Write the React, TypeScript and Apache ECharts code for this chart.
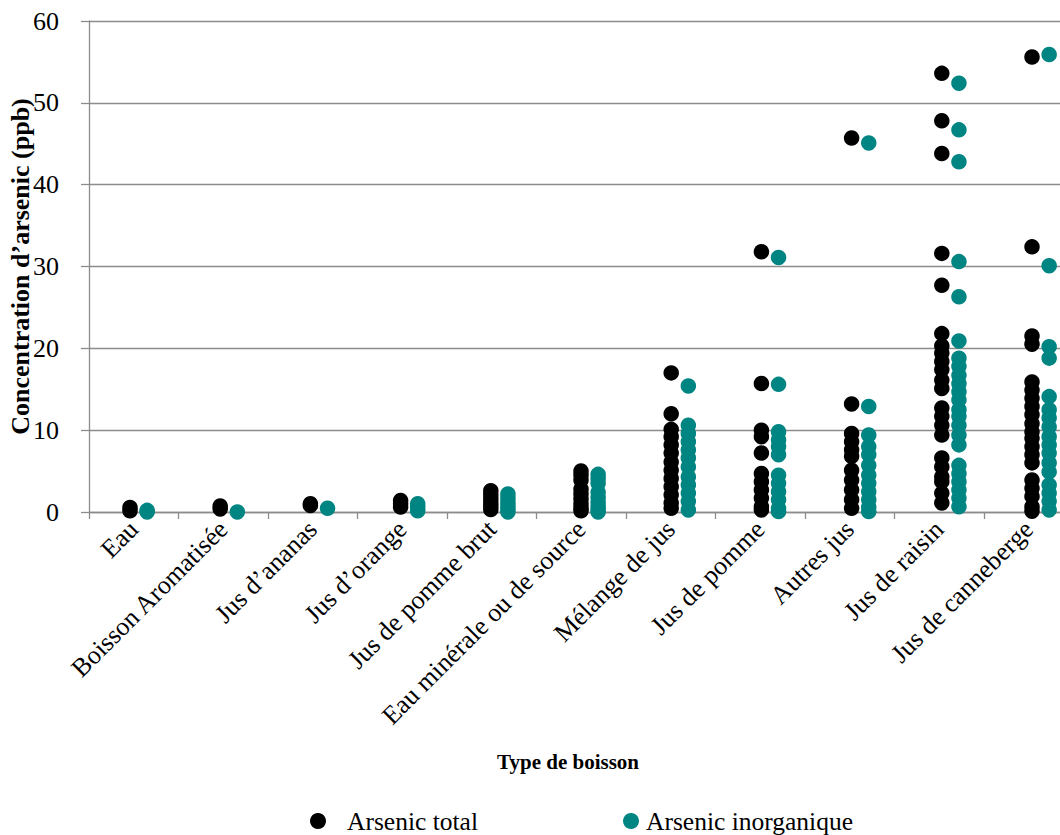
import React, { useEffect, useRef } from "react";
import * as echarts from "echarts";

// Beverage categories shown on the x axis
const categories = [
  "Eau",
  "Boisson Aromatisée",
  "Jus d’ananas",
  "Jus d’orange",
  "Jus de pomme brut",
  "Eau minérale ou de source",
  "Mélange de jus",
  "Jus de pomme",
  "Autres jus",
  "Jus de raisin",
  "Jus de canneberge",
];

// Total arsenic (ppb), one list per category
const totalArsenic: number[][] = [
  [0.15, 0.55],
  [0.37, 0.73],
  [0.8, 1.0],
  [0.6, 1.0, 1.4],
  [0.3, 0.7, 1.1, 1.6, 2.1, 2.6],
  [0.15, 0.5, 1.0, 1.6, 2.2, 2.8, 3.9, 4.5, 5.0],
  [17.0, 12.0, 10.1, 9.2, 8.2, 7.2, 6.1, 5.1, 4.1, 3.1, 2.1, 1.1, 0.45],
  [31.8, 15.7, 10.0, 9.2, 7.2, 4.7, 3.7, 2.7, 1.7, 0.65, 0.25],
  [45.7, 13.2, 9.6, 8.6, 7.6, 6.8, 5.1, 3.9, 2.7, 1.5, 0.45],
  [53.6, 47.8, 43.8, 31.6, 27.7, 21.8, 20.3, 19.4, 18.4, 17.4, 16.1, 15.1, 12.7, 11.7, 10.6, 9.4, 6.6, 5.5, 4.3, 3.7, 2.3, 1.1],
  [55.6, 32.4, 21.5, 20.5, 15.9, 14.9, 13.9, 12.9, 11.9, 10.8, 9.8, 9.0, 8.0, 7.0, 6.0, 3.9, 2.9, 1.9, 0.65, 0.1],
];

// Inorganic arsenic (ppb), one list per category
const inorganicArsenic: number[][] = [
  [0.0, 0.2],
  [0.0],
  [0.45],
  [0.15, 0.6, 1.0],
  [0.0, 0.4, 0.8, 1.2, 1.7, 2.2],
  [0.0, 0.3, 0.7, 1.2, 1.8, 2.4, 3.5, 4.1, 4.6],
  [15.4, 10.6, 9.6, 8.6, 7.6, 6.6, 5.5, 4.3, 3.3, 2.3, 1.3, 0.25],
  [31.1, 15.6, 9.8, 8.8, 8.0, 7.0, 4.5, 3.5, 2.5, 1.5, 0.45, 0.05],
  [45.1, 12.9, 9.4, 8.0, 7.0, 5.7, 4.5, 3.5, 2.5, 1.5, 0.6, 0.05],
  [52.4, 46.7, 42.8, 30.6, 26.3, 20.9, 18.8, 17.8, 16.7, 15.7, 14.7, 13.7, 12.5, 11.7, 10.6, 9.4, 8.2, 5.7, 4.7, 3.7, 2.7, 1.7, 0.65],
  [55.9, 30.1, 20.2, 18.8, 14.1, 12.5, 11.5, 10.4, 9.2, 8.2, 7.2, 6.0, 4.9, 3.3, 2.3, 1.3, 0.25],
];

const yTicks = { min: 0, max: 60, interval: 10 };

const seriesNames = ["Arsenic total", "Arsenic inorganique"];
const BLACK = "#000000";
const TEAL = "#008582";
const GRID_GRAY = "#8c8c8c";
const FONT = "'Liberation Serif', 'Times New Roman', serif";

// Each category sits at position i + 1 on the hidden numeric axis;
// the inorganic dots are nudged to the right of the total dots.
const INORGANIC_SHIFT = 0.19;

function toPoints(groups: number[][], shift: number): [number, number][] {
  const pts: [number, number][] = [];
  groups.forEach((vals, i) => {
    vals.forEach((v) => pts.push([i + 1 + shift, v]));
  });
  return pts;
}

export default function App() {
  const ref = useRef<HTMLDivElement>(null);

  useEffect(() => {
    if (!ref.current) return;
    const chart = echarts.init(ref.current, null, { renderer: "svg" });

    chart.setOption({
      animation: false,
      backgroundColor: "#ffffff",
      grid: {
        left: 89,
        top: 21,
        width: 984.5,
        height: 491,
        containLabel: false,
        outerBoundsMode: "none",
      },
      xAxis: [
        {
          type: "category",
          data: categories,
          boundaryGap: true,
          axisLine: { lineStyle: { color: GRID_GRAY, width: 1.3 } },
          axisTick: { show: true, length: 7, alignWithLabel: false, lineStyle: { color: GRID_GRAY, width: 1.3 } },
          axisLabel: {
            rotate: 45,
            margin: 13,
            interval: 0,
            color: "#000",
            fontFamily: FONT,
            fontSize: 26,
          },
          splitLine: { show: false },
        },
        {
          type: "value",
          show: false,
          min: 0.5455,
          max: 11.46,
          splitLine: { show: false },
        },
      ],
      yAxis: {
        type: "value",
        min: yTicks.min,
        max: yTicks.max,
        interval: yTicks.interval,
        name: "Concentration d’arsenic (ppb)",
        nameLocation: "middle",
        nameGap: 56,
        nameMoveOverlap: false,
        nameTextStyle: { fontFamily: FONT, fontSize: 26, fontWeight: "bold", color: "#000" },
        axisLine: { show: true, lineStyle: { color: GRID_GRAY, width: 1.3 } },
        axisTick: { show: true, length: 8, lineStyle: { color: GRID_GRAY, width: 1.3 } },
        axisLabel: { margin: 30, color: "#000", fontFamily: FONT, fontSize: 26 },
        splitLine: { show: true, lineStyle: { color: GRID_GRAY, width: 1.3 } },
      },
      legend: [
        {
          data: [seriesNames[0]],
          left: 305,
          top: 803,
          icon: "circle",
          itemWidth: 16,
          itemHeight: 16,
          textStyle: { fontFamily: FONT, fontSize: 25.5, color: "#000", padding: [0, 0, 0, 16] },
        },
        {
          data: [seriesNames[1]],
          left: 618,
          top: 803,
          icon: "circle",
          itemWidth: 16,
          itemHeight: 16,
          textStyle: { fontFamily: FONT, fontSize: 25.5, color: "#000", padding: [0, 0, 0, 2] },
        },
      ],
      graphic: [
        {
          type: "text",
          left: 497,
          top: 751,
          style: {
            text: "Type de boisson",
            fontFamily: FONT,
            fontSize: 21,
            fontWeight: "bold",
            fill: "#000",
          },
        },
      ],
      series: [
        {
          name: seriesNames[0],
          type: "scatter",
          xAxisIndex: 1,
          symbol: "circle",
          symbolSize: 15.5,
          itemStyle: { color: BLACK, opacity: 1 },
          data: toPoints(totalArsenic, 0),
          z: 3,
        },
        {
          name: seriesNames[1],
          type: "scatter",
          xAxisIndex: 1,
          symbol: "circle",
          symbolSize: 15.5,
          itemStyle: { color: TEAL, opacity: 1 },
          data: toPoints(inorganicArsenic, INORGANIC_SHIFT),
          z: 4,
        },
      ],
    });

    return () => chart.dispose();
  }, []);

  return (
    <div
      ref={ref}
      style={{ position: "fixed", left: 0, top: 0, width: 1060, height: 835, background: "#fff" }}
    />
  );
}
